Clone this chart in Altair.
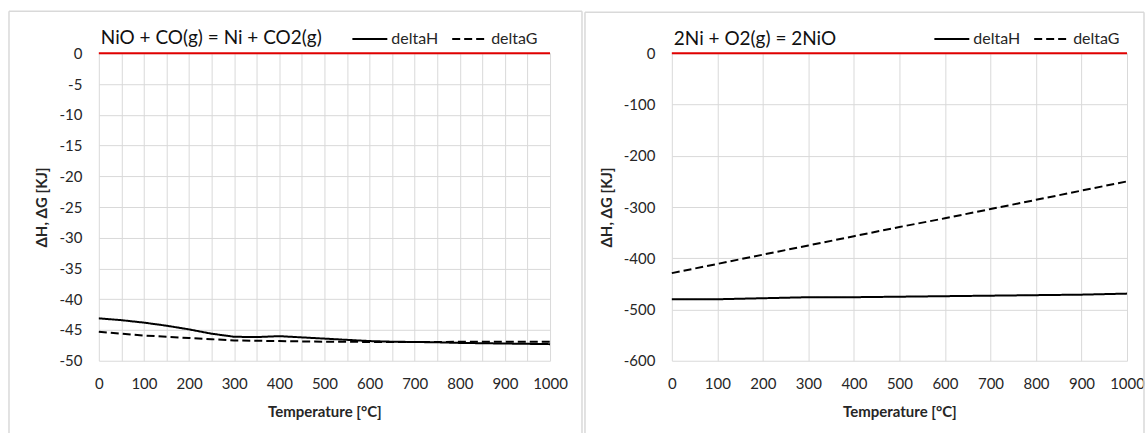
import altair as alt
import pandas as pd

# ---- data ----
T_left = list(range(0, 1001, 50))
H_left = [-43.1, -43.4, -43.8, -44.3, -44.9, -45.6, -46.1, -46.15, -46.0, -46.2, -46.4,
          -46.6, -46.8, -46.9, -46.95, -47.0, -47.1, -47.15, -47.2, -47.25, -47.3]
G_left = [-45.3, -45.6, -45.9, -46.1, -46.3, -46.5, -46.7, -46.75, -46.8, -46.85, -46.9,
          -46.9, -46.95, -46.95, -46.95, -46.95, -46.9, -46.9, -46.9, -46.9, -46.9]

T_right = list(range(0, 1001, 100))
H_right = [-480, -480, -478, -476, -476, -475, -474, -473, -472, -471, -469]
G_right = [-429, -411, -393, -375, -357, -339, -322, -304, -286, -268, -250]

SERIES = ["deltaH", "deltaG"]
FONT = "Lato"
BORDER = "#d9d9d9"


def frame_rules(x_left, x_right, y_top, y_bottom):
    one = pd.DataFrame({"k": [0]})
    base = alt.Chart(one).mark_rule(color=BORDER, strokeWidth=1.5)
    return [
        base.encode(x=alt.value(x_left), y=alt.value(y_top), y2=alt.value(y_bottom)),
        base.encode(x=alt.value(x_right), y=alt.value(y_top), y2=alt.value(y_bottom)),
        base.encode(x=alt.value(x_left), x2=alt.value(x_right), y=alt.value(y_top)),
    ]


def panel(title, T, H, G, ydom, ystep, xstep, w, legx, frame):
    df = pd.DataFrame({
        "T": T + T,
        "v": H + G,
        "series": [SERIES[0]] * len(T) + [SERIES[1]] * len(T),
    })
    xvals = list(range(0, 1001, xstep))
    yvals = list(range(ydom[0], ydom[1] + 1, ystep))
    yaxis = alt.Axis(values=yvals, title="ΔH, ΔG [KJ]",
                     labelExpr="'' + datum.value", labelOverlap=False,
                     labelFlush=False, labelPadding=17, titlePadding=9)
    yscale = alt.Scale(domain=ydom, nice=False)
    lines = alt.Chart(df).mark_line(color="black", strokeWidth=2).encode(
        x=alt.X("T:Q", scale=alt.Scale(domain=[0, 1000], nice=False),
                axis=alt.Axis(values=xvals, title="Temperature [°C]",
                              labelExpr="datum.value % 100 == 0 ? '' + datum.value : ''",
                              labelOverlap=False, labelFlush=False,
                              labelPadding=16, titlePadding=13)),
        y=alt.Y("v:Q", scale=yscale, axis=yaxis),
        strokeDash=alt.StrokeDash(
            "series:N",
            scale=alt.Scale(domain=SERIES, range=[[1, 0], [8, 4]]),
            legend=alt.Legend(title=None, orient="none", legendX=legx, legendY=-33,
                              direction="horizontal", symbolType="stroke",
                              symbolSize=1225, symbolStrokeWidth=2,
                              symbolStrokeColor="black", labelFontSize=16,
                              labelFont=FONT, columnPadding=10, symbolOffset=0,
                              labelOffset=3, padding=0)),
    )
    zero = alt.Chart(pd.DataFrame({"v": [0]})).mark_rule(
        color="#e00000", strokeWidth=2).encode(y=alt.Y("v:Q", scale=yscale, axis=yaxis))
    return alt.layer(lines, zero, *frame_rules(*frame)).properties(
        width=w, height=308,
        title=alt.TitleParams(title, anchor="start", frame="group", fontSize=19,
                              font=FONT, fontWeight="normal", color="#111",
                              baseline="alphabetic", offset=-52, dx=2),
    )


left = panel("NiO + CO(g) = Ni + CO2(g)", T_left, H_left, G_left, [-50, 0], 5, 50, 452, 253,
             (-90, 484, -42, 381))
right = panel("2Ni + O2(g) = 2NiO", T_right, H_right, G_right, [-600, 0], 100, 100, 456, 262,
              (-87, 473, -41, 381))

chart = alt.hconcat(left, right, spacing=1).resolve_scale(
    x="independent", y="independent", strokeDash="independent"
).properties(
    padding={"left": 8, "top": 10, "right": 0, "bottom": 0},
    background="white",
).configure_view(stroke=None).configure_axis(
    grid=True, gridColor="#d9d9d9", gridWidth=1, domain=False, ticks=False,
    labelOverlap=False,
    labelFont=FONT, labelFontSize=15, labelColor="#262626",
    titleFont=FONT, titleFontSize=15, titleFontWeight="bold", titleColor="#262626",
).configure_legend(labelColor="#262626")

chart.save("out.html", embed_options={"renderer": "svg", "actions": False})
